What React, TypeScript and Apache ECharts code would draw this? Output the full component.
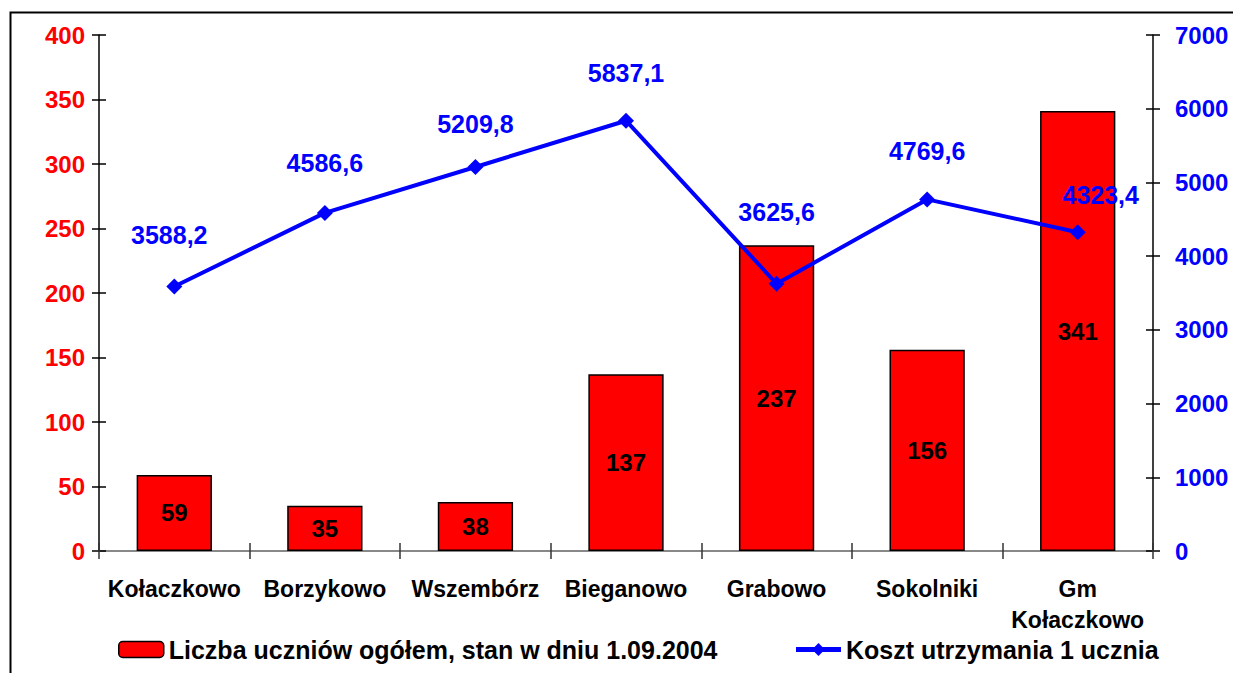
import React, { useEffect, useRef } from "react";
import * as echarts from "echarts";

const categories = ["Kołaczkowo", "Borzykowo", "Wszembórz", "Bieganowo", "Grabowo", "Sokolniki", "Gm\nKołaczkowo"];
const students = [59, 35, 38, 137, 237, 156, 341];
const costs = [3588.2, 4586.6, 5209.8, 5837.1, 3625.6, 4769.6, 4323.4];
const leftTicks = { min: 0, max: 400, interval: 50 };
const rightTicks = { min: 0, max: 7000, interval: 1000 };
const barName = "Liczba uczniów ogółem, stan w dniu 1.09.2004";
const lineName = "Koszt utrzymania 1 ucznia";
const costLabelOffsets = [[-5, -3], [0, -1], [0, 6], [0, 1], [0, -23], [0, 0], [23, 11]];

const FONT = "'Liberation Sans', Arial, sans-serif";

export default function App() {
  const ref = useRef<HTMLDivElement>(null);
  useEffect(() => {
    if (!ref.current) return;
    const chart = echarts.init(ref.current, null, { renderer: "svg" });
    const tickAxisY = (pos: string, idx: number) => ({
      type: "value",
      position: pos,
      min: idx === 0 ? leftTicks.min : rightTicks.min,
      max: idx === 0 ? leftTicks.max : rightTicks.max,
      interval: idx === 0 ? leftTicks.interval : rightTicks.interval,
      splitLine: { show: false },
      axisLine: { show: false },
      axisTick: { show: true, inside: true, length: 7, lineStyle: { color: "#000", width: 1.5 } },
      axisLabel: { show: false },
    });
    chart.setOption({
      animation: false,
      backgroundColor: "#ffffff",
      textStyle: { fontFamily: FONT },
      graphic: [
        {
          type: "rect",
          shape: { x: 10.5, y: 12.5, width: 1400, height: 800 },
          style: { fill: "none", stroke: "#000", lineWidth: 2 },
          silent: true,
        },
      ],
      grid: { left: 99, right: 80, top: 35, bottom: 122, containLabel: false },
      legend: {
        left: 113,
        top: 632,
        itemWidth: 45,
        itemHeight: 16,
        itemGap: 76,
        textStyle: { fontFamily: FONT, fontWeight: "bold", fontSize: 25, color: "#000" },
        data: [
          { name: barName, itemStyle: { color: "#ff0000", borderColor: "#000", borderWidth: 1.5 } },
          { name: lineName, lineStyle: { width: 5, color: "#0000ff" } },
        ],
      },
      xAxis: [
        {
          type: "category",
          data: categories,
          position: "bottom",
          axisLine: { show: true, lineStyle: { color: "#555", width: 2 } },
          axisTick: { show: true, inside: false, length: 8, lineStyle: { color: "#333", width: 1.5 } },
          axisLabel: {
            fontFamily: FONT,
            fontWeight: "bold",
            fontSize: 23,
            color: "#000",
            margin: 22,
            lineHeight: 31,
            interval: 0,
          },
        },
        {
          type: "category",
          data: categories,
          position: "top",
          axisLine: { show: true, lineStyle: { color: "#888", width: 2 } },
          axisTick: { show: false },
          axisLabel: { show: false },
        },
        {
          type: "category",
          data: categories,
          position: "bottom",
          axisLine: { show: false },
          axisTick: { show: true, inside: true, length: 8, lineStyle: { color: "#333", width: 1.5 } },
          axisLabel: { show: false },
        },
      ],
      yAxis: [
        {
          type: "value",
          position: "left",
          min: leftTicks.min,
          max: leftTicks.max,
          interval: leftTicks.interval,
          splitLine: { show: false },
          axisLine: { show: true, lineStyle: { color: "#000", width: 1.5 } },
          axisTick: { show: true, length: 7, lineStyle: { color: "#000", width: 1.5 } },
          axisLabel: { fontFamily: FONT, fontWeight: "bold", fontSize: 24, color: "#ff0000", margin: 14 },
        },
        {
          type: "value",
          position: "right",
          min: rightTicks.min,
          max: rightTicks.max,
          interval: rightTicks.interval,
          splitLine: { show: false },
          axisLine: { show: true, lineStyle: { color: "#000", width: 1.5 } },
          axisTick: { show: true, length: 7, lineStyle: { color: "#000", width: 1.5 } },
          axisLabel: {
            fontFamily: FONT,
            fontWeight: "bold",
            fontSize: 24,
            color: "#0000ff",
            margin: 22,
            formatter: (v: number) => String(v),
          },
        },
        tickAxisY("left", 0),
        tickAxisY("right", 1),
      ],
      series: [
        {
          name: barName,
          type: "bar",
          xAxisIndex: 0,
          yAxisIndex: 0,
          data: students,
          barWidth: "50%",
          itemStyle: { color: "#ff0000", borderColor: "#000", borderWidth: 1.5 },
          label: {
            show: true,
            position: "inside",
            fontFamily: FONT,
            fontWeight: "bold",
            fontSize: 24,
            color: "#000",
          },
        },
        {
          name: lineName,
          type: "line",
          xAxisIndex: 0,
          yAxisIndex: 1,
          data: costs.map((v, i) => ({
            value: v,
            label: { offset: costLabelOffsets[i] },
          })),
          symbol: "diamond",
          symbolSize: 16,
          lineStyle: { color: "#0000ff", width: 4 },
          itemStyle: { color: "#0000ff" },
          label: {
            show: true,
            position: "top",
            distance: 28,
            fontFamily: FONT,
            fontWeight: "bold",
            fontSize: 25,
            color: "#0000ff",
            formatter: (p: any) => String(p.value).replace(".", ","),
          },
        },
      ],
    });
    return () => chart.dispose();
  }, []);
  return (
    <div
      ref={ref}
      style={{ position: "fixed", left: 0, top: 0, width: 1233, height: 673, background: "#fff" }}
    />
  );
}
